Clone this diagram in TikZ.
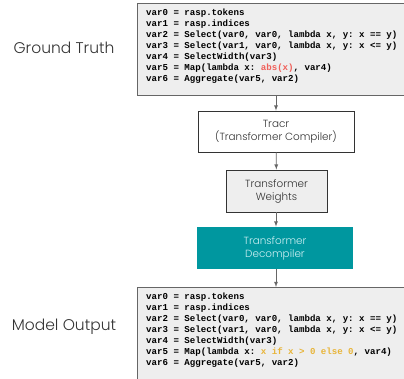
\documentclass[tikz,border=0pt]{standalone}
\usepackage{fontspec}
\setsansfont{Poppins}[UprightFont=* Light]
\setmonofont{Liberation Mono}
\tikzset{>=latex}
\definecolor{boxgray}{HTML}{EEEEEE}
\definecolor{linegray}{HTML}{666666}
\definecolor{decomp}{HTML}{00979F}
\definecolor{decomptext}{HTML}{CDEFF2}
\definecolor{absred}{HTML}{F0605A}
\definecolor{relugold}{HTML}{E8B53A}
\definecolor{labelgray}{HTML}{333333}
\tikzset{
  codebox/.style={draw=linegray, fill=boxgray, line width=0.8pt, anchor=north west, minimum width=272pt, inner sep=0pt},
  codetext/.style={anchor=north west, inner sep=0pt, align=left, font=\ttfamily\bfseries\fontsize{9.1}{10.9}\selectfont},
  stage/.style={draw=labelgray, line width=0.8pt, align=center, font=\sffamily\fontsize{10.4}{13}\selectfont, text=labelgray},
  side/.style={font=\sffamily\fontsize{15.5}{18}\selectfont, text=labelgray},
  flow/.style={->, draw=linegray, line width=0.8pt}
}

\begin{document}
\begin{tikzpicture}[x=1pt,y=-1pt]
\useasboundingbox (0,0) rectangle (404,379);

% code boxes
\node[codebox, minimum height=92pt] (truth) at (137,3) {};
\node[codetext] (truthcode) at (146,9) {var0 = rasp.tokens\\
var1 = rasp.indices\\
var2 = Select(var0, var0, lambda x, y: x == y)\\
var3 = Select(var1, var0, lambda x, y: x <= y)\\
var4 = SelectWidth(var3)\\
var5 = Map(lambda x: {\color{absred}abs(x)}, var4)\\
var6 = Aggregate(var5, var2)};

\node[codebox, minimum height=100pt] (output) at (137,287) {};
\node[codetext] (outputcode) at (146,293) {var0 = rasp.tokens\\
var1 = rasp.indices\\
var2 = Select(var0, var0, lambda x, y: x == y)\\
var3 = Select(var1, var0, lambda x, y: x <= y)\\
var4 = SelectWidth(var3)\\
var5 = Map(lambda x: {\color{relugold}x if x > 0 else 0}, var4)\\
var6 = Aggregate(var5, var2)};

	\node[side] (truthlabel) at (64,48){Ground Truth};
	\node[side] (outputlabel) at (64,327){Model Output};

% pipeline
\node[stage, fill=white, minimum width=156pt, minimum height=41pt] (tracr) at (276,131.5){Tracr\\(Transformer Compiler)};
\node[stage, fill=boxgray, minimum width=101pt, minimum height=42pt] (weights) at (276.5,191){Transformer\\Weights};
\node[stage, fill=decomp, draw=none, text=decomptext, minimum width=156pt, minimum height=42pt] (decompiler) at (275,248){Transformer\\Decompiler};

	\draw[flow] (truth.south -| tracr.north) -- (tracr.north);
	\draw[flow] (tracr) -- (weights);
	\draw[flow] (weights.south -| tracr.north) -- (decompiler.north -| tracr.north);
	\draw[flow] (decompiler.south -| tracr.north) -- (output.north -| tracr.north);
\end{tikzpicture}
\end{document}
